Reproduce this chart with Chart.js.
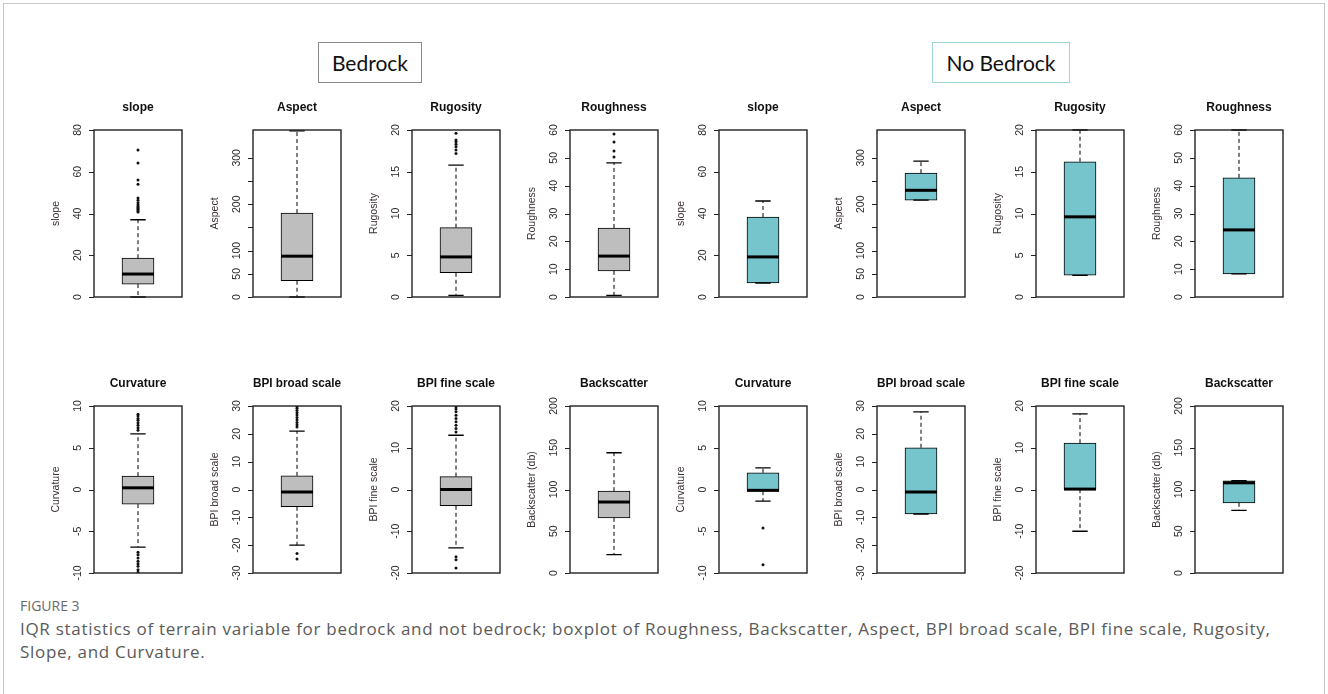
<!DOCTYPE html>
<html>
<head>
  <meta charset="UTF-8">
  <title>IQR statistics of terrain variables</title>
  <script src="https://cdn.jsdelivr.net/npm/chart.js"></script>
  <style>
    body { margin: 0; background: #fff; width: 1328px; height: 694px; overflow: hidden; position: relative; }
    #frame { position: absolute; left: 3px; top: 3px; width: 1320px; height: 720px; border: 1px solid #c8c8c8; }
    .group { position: absolute; top: 42px; height: 39px; line-height: 39px; text-align: center;
             font-family: Lato, "Open Sans", sans-serif; font-size: 21px; color: #111; background: #fff; }
    #g1 { left: 318px; width: 102px; border: 1px solid #8a8a8a; }
    #g2 { left: 932px; width: 136px; border: 1px solid #9fd4d4; }
    canvas { position: absolute; }
    #capLabel { position: absolute; left: 20px; top: 597px; font-family: "Open Sans", sans-serif; font-size: 14px;
                line-height: 18px; color: #6a6a6a; }
    #capText { position: absolute; left: 20px; top: 617px; font-family: "Open Sans", sans-serif; font-size: 17px;
               letter-spacing: 0.7px; line-height: 23px; color: #5a5a5a; white-space: nowrap; }
  </style>
</head>
<body>
<div id="frame"></div>
<div class="group" id="g1">Bedrock</div>
<div class="group" id="g2">No Bedrock</div>
<div id="panels"></div>
<div id="capLabel">FIGURE 3</div>
<div id="capText">IQR statistics of terrain variable for bedrock and not bedrock; boxplot of Roughness, Backscatter, Aspect, BPI broad scale, BPI fine scale, Rugosity,<br>Slope, and Curvature.</div>

<script>
  // variables, in panel order (top row then bottom row)
  const variableNames = ['slope', 'Aspect', 'Rugosity', 'Roughness', 'Curvature', 'BPI broad scale', 'BPI fine scale', 'Backscatter'];
  const axisTitles = ['slope', 'Aspect', 'Rugosity', 'Roughness', 'Curvature', 'BPI broad scale', 'BPI fine scale', 'Backscatter (db)'];
  const axisMin = [0, 0, 0, 0, -10, -30, -20, 0];
  const axisMax = [80, 360, 20, 60, 10, 30, 20, 200];
  const axisTicks = [
    [0, 20, 40, 60, 80],
    [0, 50, 100, 150, 200, 250, 300],
    [0, 5, 10, 15, 20],
    [0, 10, 20, 30, 40, 50, 60],
    [-10, -5, 0, 5, 10],
    [-30, -20, -10, 0, 10, 20, 30],
    [-20, -10, 0, 10, 20],
    [0, 50, 100, 150, 200]
  ];
  const axisTickLabels = [
    ['0', '20', '40', '60', '80'],
    ['0', '50', '100', '', '200', '', '300'],
    ['0', '5', '10', '15', '20'],
    ['0', '10', '20', '30', '40', '50', '60'],
    ['-10', '-5', '0', '5', '10'],
    ['-30', '-20', '-10', '0', '10', '20', '30'],
    ['-20', '-10', '0', '10', '20'],
    ['0', '50', '100', '150', '200']
  ];

  // Bedrock
  const bedrockLow    = [0,    0,   0.2, 0.6,  -6.9, -20,  -14,  22];
  const bedrockQ1     = [6.2,  35,  2.9, 9.4,  -1.75, -6.2, -3.9, 66];
  const bedrockMedian = [11,   88,  4.8, 14.7, 0.2,  -0.9, 0,    85];
  const bedrockQ3     = [18.6, 181, 8.3, 24.8, 1.6,  4.9,  3.1,  98];
  const bedrockHigh   = [37,   358, 15.8, 48.2, 6.65, 21,  13,   144];
  const bedrockOutliers = [
    [40.7, 41.2, 41.8, 42.3, 42.8, 43.4, 44.2, 45.2, 46.3, 47.4, 54, 56, 64.2, 70.4],
    [],
    [17.2, 17.6, 18.0, 18.3, 18.6, 18.8, 19.6],
    [50.3, 52.5, 55.7, 58.6],
    [7.1, 7.4, 7.7, 8.0, 8.3, 8.5, 8.8, 9.0, -7.5, -7.8, -8.2, -8.6, -8.9, -9.2, -9.6, -9.9],
    [22.5, 23.3, 24.1, 25, 25.9, 26.8, 27.6, 28.4, 29.2, 29.8, -23, -25],
    [13.8, 14.6, 15.4, 16.2, 17, 17.8, 18.6, 19.3, 19.8, -16.1, -16.8, -18.8],
    []
  ];

  // No Bedrock
  const noBedrockLow    = [6.7,  209, 2.6,  8.3,  -1.4, -8.8, -10, 75];
  const noBedrockQ1     = [6.7,  209, 2.6,  8.3,  -0.2, -8.8, 0.1, 84];
  const noBedrockMedian = [19.2, 230, 9.6,  24.1, -0.1, -0.9, 0.1, 108];
  const noBedrockQ3     = [38.3, 267, 16.2, 42.8, 2.0,  15,   11.1, 110.5];
  const noBedrockHigh   = [46,   293, 20,   60,   2.6,  27.9, 18.1, 110.5];
  const noBedrockOutliers = [[], [], [], [], [-4.6, -9.0], [], [], []];

  // layout: centre of each plot frame (columns), frame top of each row
  const colCentres = [138, 297, 455.5, 614, 762.5, 921, 1080, 1238.5];
  const rowTops = [130, 406];
  const frameW = 88, frameH = 167, padL = 60, padR = 10, titleH = 31, padB = 10;

  const groups = [
    { low: bedrockLow, q1: bedrockQ1, med: bedrockMedian, q3: bedrockQ3, high: bedrockHigh, out: bedrockOutliers, fill: '#bebebe' },
    { low: noBedrockLow, q1: noBedrockQ1, med: noBedrockMedian, q3: noBedrockQ3, high: noBedrockHigh, out: noBedrockOutliers, fill: '#76c5cd' }
  ];

  // draws whiskers, caps, median, plot frame and R-style axis
  const boxplotPlugin = {
    id: 'boxplot',
    afterDatasetsDraw(chart, args, st) {
      const y = chart.scales.y;
      const bar = chart.getDatasetMeta(0).data[0];
      const cx = bar.x, w = bar.width;
      const ctx = chart.ctx;
      ctx.save();
      ctx.strokeStyle = '#000';
      ctx.lineWidth = 1;
      // whiskers
      ctx.setLineDash([4, 3]);
      ctx.beginPath();
      ctx.moveTo(cx, y.getPixelForValue(st.q3)); ctx.lineTo(cx, y.getPixelForValue(st.high));
      ctx.moveTo(cx, y.getPixelForValue(st.q1)); ctx.lineTo(cx, y.getPixelForValue(st.low));
      ctx.stroke();
      ctx.setLineDash([]);
      // caps
      const cw = w * 0.24;
      ctx.lineWidth = 1.3;
      ctx.beginPath();
      [st.high, st.low].forEach(function (v) {
        const py = y.getPixelForValue(v);
        ctx.moveTo(cx - cw, py); ctx.lineTo(cx + cw, py);
      });
      ctx.stroke();
      // median
      ctx.lineWidth = 3;
      ctx.beginPath();
      const pm = y.getPixelForValue(st.med);
      ctx.moveTo(cx - w / 2, pm); ctx.lineTo(cx + w / 2, pm);
      ctx.stroke();
      ctx.restore();
    },
    afterDraw(chart, args, st) {
      const a = chart.chartArea;
      const y = chart.scales.y;
      const ctx = chart.ctx;
      ctx.save();
      ctx.strokeStyle = '#222';
      ctx.lineWidth = 1.4;
      ctx.strokeRect(a.left, a.top, a.right - a.left, a.bottom - a.top);
      // ticks
      ctx.lineWidth = 1;
      ctx.beginPath();
      st.ticks.forEach(function (t) {
        const py = Math.round(y.getPixelForValue(t)) + 0.5;
        ctx.moveTo(a.left - 5, py); ctx.lineTo(a.left, py);
      });
      ctx.stroke();
      ctx.fillStyle = '#2a2a2a';
      ctx.font = '10.5px "Liberation Sans", Arial, sans-serif';
      ctx.textAlign = 'center';
      ctx.textBaseline = 'middle';
      st.ticks.forEach(function (t, i) {
        if (!st.tickLabels[i]) return;
        ctx.save();
        ctx.translate(a.left - 16, y.getPixelForValue(t));
        ctx.rotate(-Math.PI / 2);
        ctx.fillText(st.tickLabels[i], 0, 0);
        ctx.restore();
      });
      // axis title
      ctx.font = '10.5px "Liberation Sans", Arial, sans-serif';
      ctx.fillStyle = '#3a3030';
      ctx.translate(a.left - 38, (a.top + a.bottom) / 2);
      ctx.rotate(-Math.PI / 2);
      ctx.fillText(st.title, 0, 0);
      ctx.restore();
    }
  };

  const holder = document.getElementById('panels');

  for (let row = 0; row < 2; row++) {
    for (let col = 0; col < 8; col++) {
      const v = row * 4 + (col % 4);
      const g = groups[col < 4 ? 0 : 1];
      const cv = document.createElement('canvas');
      cv.width = padL + frameW + padR;
      cv.height = titleH + frameH + padB;
      cv.style.left = (colCentres[col] - frameW / 2 - padL) + 'px';
      cv.style.top = (rowTops[row] - titleH) + 'px';
      holder.appendChild(cv);

      const name = variableNames[v];
      new Chart(cv, {
        type: 'bar',
        data: {
          labels: [name],
          datasets: [{
            data: [[g.q1[v], g.q3[v]]],
            backgroundColor: g.fill,
            borderColor: '#000',
            borderWidth: 1,
            borderSkipped: false,
            barThickness: 32
          }, {
            type: 'line',
            showLine: false,
            data: g.out[v].map(function (o) { return { x: name, y: o }; }),
            pointRadius: 1.5,
            pointBackgroundColor: '#111',
            pointBorderWidth: 0
          }]
        },
        options: {
          responsive: false,
          animation: false,
          events: [],
          layout: { padding: { left: padL, right: padR, top: 0, bottom: padB } },
          plugins: {
            legend: { display: false },
            tooltip: { enabled: false },
            title: {
              display: true,
              text: name,
              color: '#111',
              font: { family: '"Liberation Sans", Arial, sans-serif', size: 12, weight: 'bold', lineHeight: 1.25 },
              padding: { top: 1, bottom: 15 }
            },
            boxplot: {
              low: g.low[v], q1: g.q1[v], med: g.med[v], q3: g.q3[v], high: g.high[v],
              ticks: axisTicks[v], tickLabels: axisTickLabels[v], title: axisTitles[v]
            }
          },
          scales: {
            x: { type: 'category', display: false },
            y: { display: false, min: axisMin[v], max: axisMax[v] }
          }
        },
        plugins: [boxplotPlugin]
      });
    }
  }
</script>
</body>
</html>
